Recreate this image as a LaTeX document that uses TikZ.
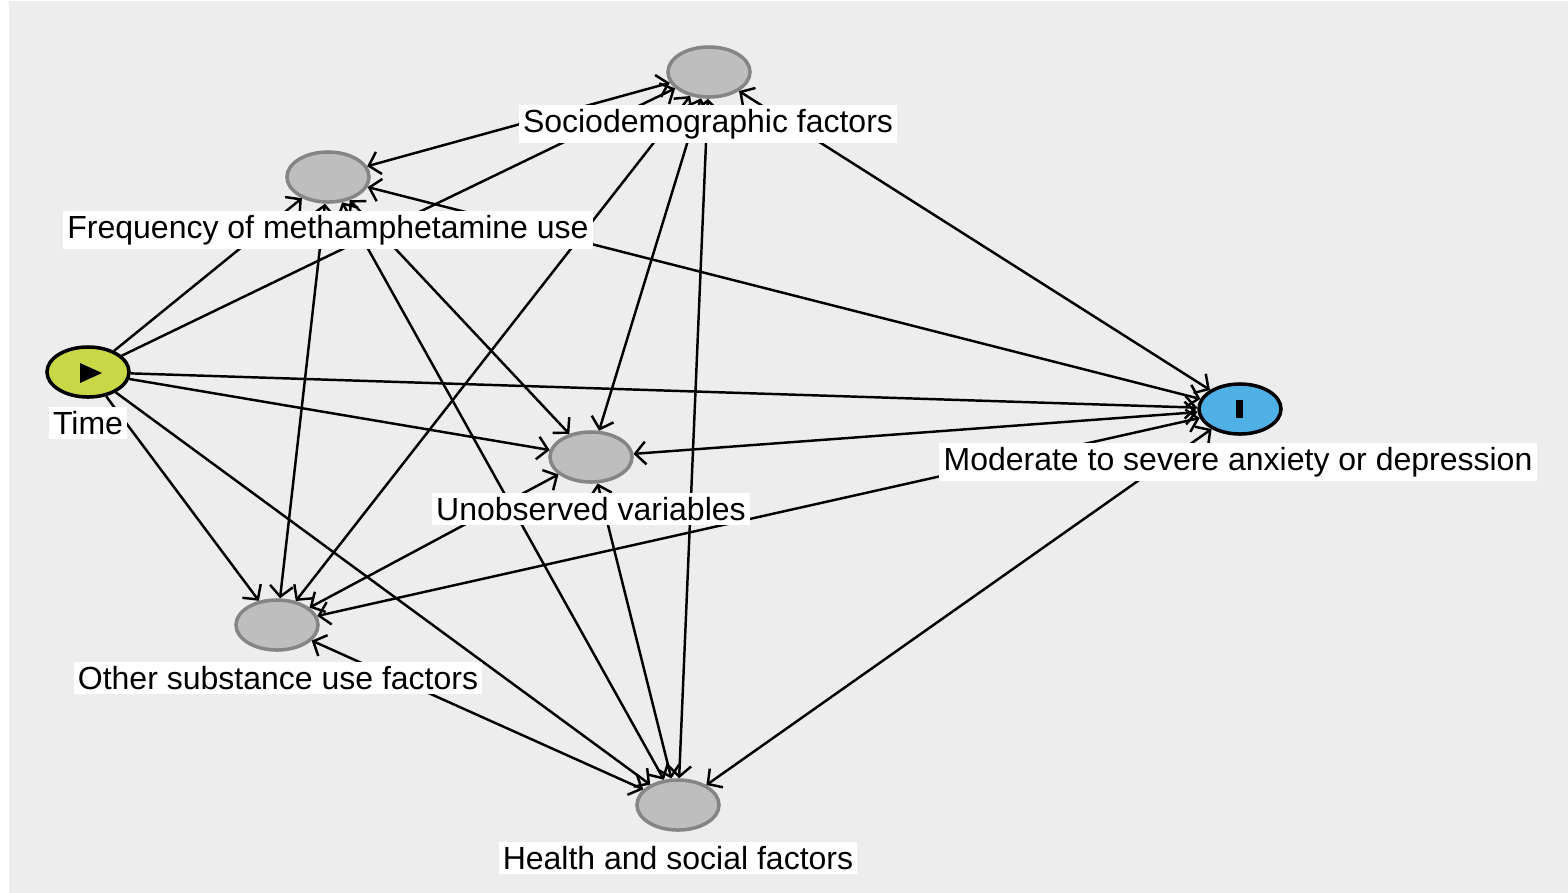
\documentclass[tikz,border=0pt]{standalone}
\usepackage{fontspec}
\setmainfont{Liberation Sans}
\usetikzlibrary{shapes.geometric,arrows.meta}

\definecolor{bggray}{HTML}{EDEDED}
\definecolor{nodegray}{HTML}{BEBEBE}
\definecolor{bordergray}{HTML}{858585}
\definecolor{exposure}{HTML}{C8D746}
\definecolor{outcomeblue}{HTML}{4FB0E6}

\tikzset{
    var/.style={ellipse, draw=bordergray, fill=nodegray, line width=1pt,
        minimum width=0.82cm, minimum height=0.5cm, inner sep=0pt},
    varname/.style={fill=white, inner sep=1.2pt, font=\fontsize{9.1}{11}\selectfont},
    link/.style={->, line width=0.7pt},
    bilink/.style={<->, line width=0.7pt}
}

\begin{document}
\begin{tikzpicture}[x=0.01cm, y=-0.01cm, >={Straight Barb[length=3pt,width=6.5pt]}]
    % Background
    \useasboundingbox (0,0) rectangle (1568,893);
    \fill[bggray] (9,1) rectangle (1568,893);

    % Draw the variables
    \node[var] (socio) at (709,72) {};
    \node[var] (freq) at (328,177) {};
    \node[var, fill=exposure, draw=black] (time) at (88,372) {};
    \node[var, fill=outcomeblue, draw=black] (outcome) at (1240,409) {};
    \node[var] (unobs) at (591,457) {};
    \node[var] (other) at (277,625) {};
    \node[var] (health) at (678,805) {};

    % Paths leaving the exposure
    \draw[link] (time) -- (freq);
    \draw[link] (time) -- (socio);
    \draw[link] (time) -- (outcome);
    \draw[link] (time) -- (unobs);
    \draw[link] (time) -- (other);
    \draw[link] (time) -- (health);

    % Paths between the other variables
    \draw[bilink] (socio) -- (freq);
    \draw[bilink] (socio) -- (other);
    \draw[bilink] (socio) -- (unobs);
    \draw[bilink] (socio) -- (health);
    \draw[bilink] (socio) -- (outcome);
    \draw[bilink] (freq) -- (unobs);
    \draw[bilink] (freq) -- (health);
    \draw[bilink] (freq) -- (other);
    \draw[bilink] (freq) -- (outcome);
    \draw[bilink] (outcome) -- (unobs);
    \draw[bilink] (outcome) -- (other);
    \draw[bilink] (outcome) -- (health);
    \draw[bilink] (unobs) -- (other);
    \draw[bilink] (unobs) -- (health);
    \draw[bilink] (other) -- (health);

    % Marks for exposure and outcome
    \fill (80,363) -- (102,373) -- (80,383) -- cycle;
    \fill (1236,400) rectangle (1243,418);

    % Names under the variables
    \node[varname] (socioname) at (708,124) {Sociodemographic factors};
    \node[varname] (freqname) at (328,230) {Frequency of methamphetamine use};
    \node[varname] (timename) at (88,423) {Time};
    \node[varname] (outcomename) at (1238,462) {Moderate to severe anxiety or depression};
    \node[varname] (unobsname) at (591,509) {Unobserved variables};
    \node[varname] (othername) at (278,678) {Other substance use factors};
    \node[varname] (healthname) at (678,858) {Health and social factors};

\end{tikzpicture}
\end{document}
